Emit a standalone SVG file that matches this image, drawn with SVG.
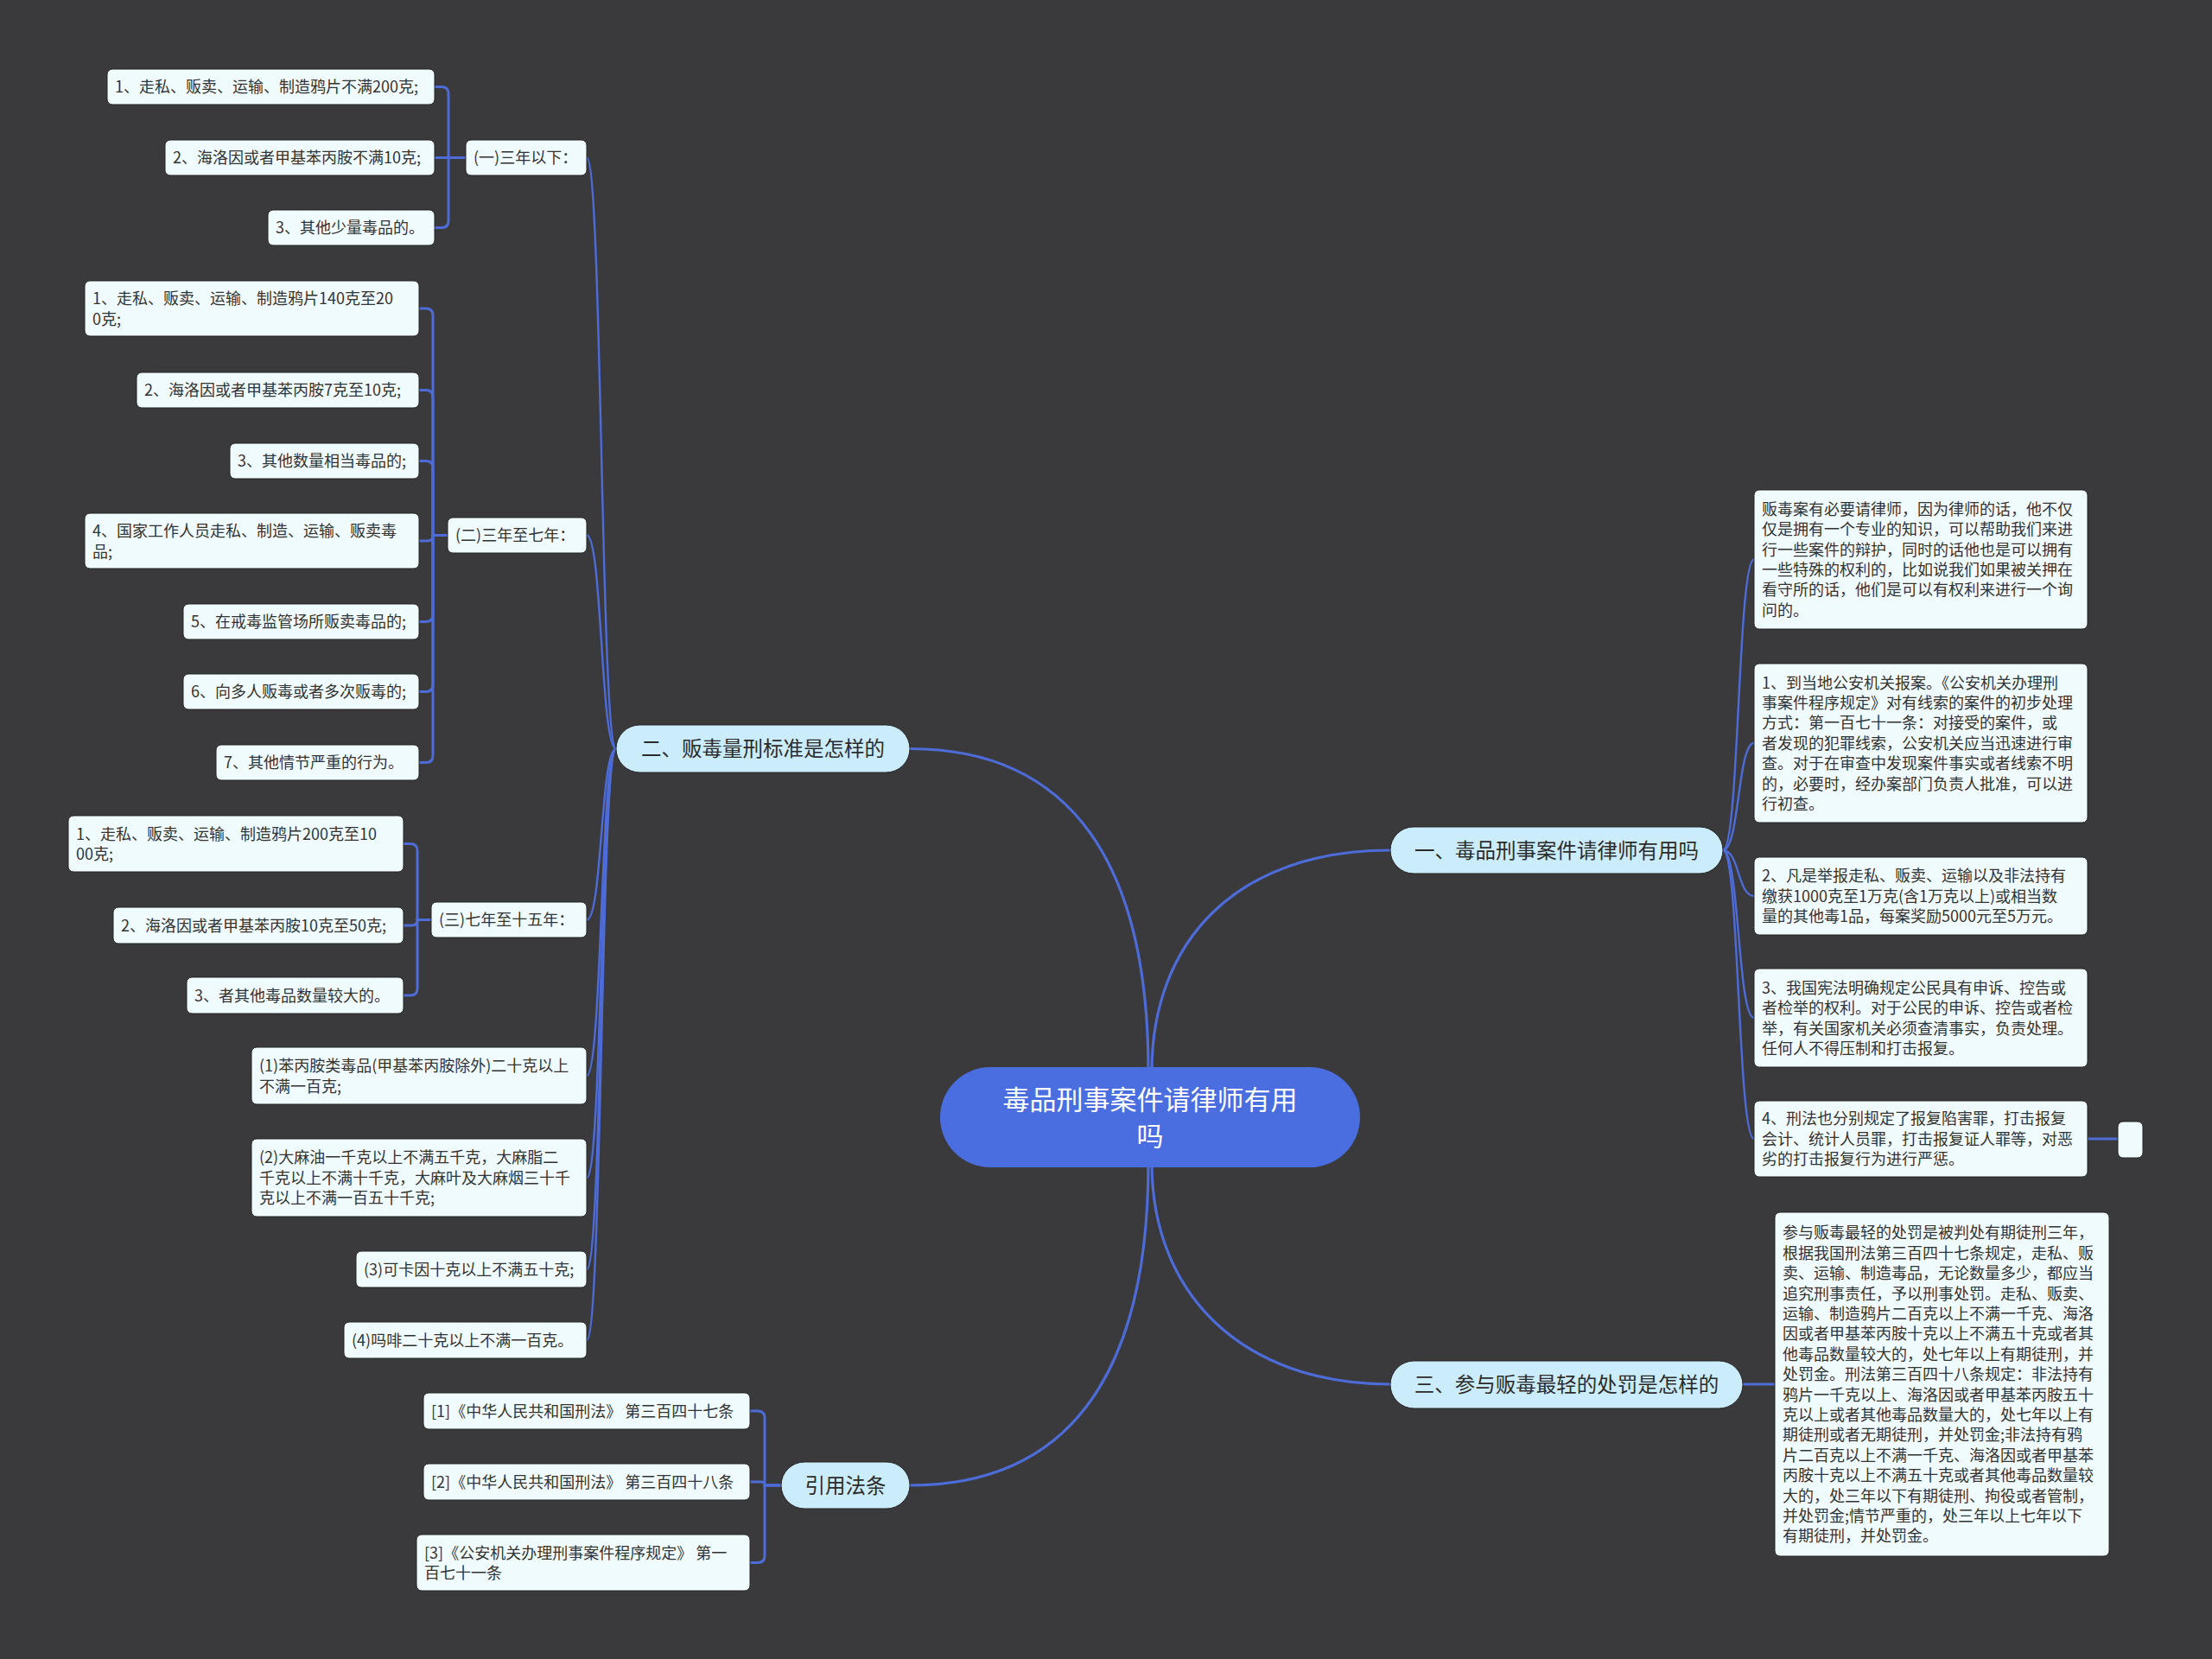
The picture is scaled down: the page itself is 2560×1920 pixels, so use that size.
<svg xmlns="http://www.w3.org/2000/svg" width="2560" height="1920" viewBox="0 0 2560 1920">
<style>
text{font-family:"Noto Sans CJK SC","Noto Sans",sans-serif}
.leaf rect{fill:#f0fbfd;stroke:#262626;stroke-width:1}
.leaf text{font-size:18px;fill:#333333}
.branch rect{fill:#cbecfb;stroke:#262626;stroke-width:1}
.branch text{font-size:23.5px;fill:#2b2b2b;text-anchor:middle}
.conn path{fill:none;stroke:#4d6cd8;stroke-width:3;stroke-linecap:round}
.conn .main{stroke-width:3.2}
.conn .fan{stroke-width:2.4}
</style>
<rect x="0" y="0" width="2560" height="1920" fill="#3a393b"/>

<g id="connectors" class="conn">
  <path class="main" d="M1329,1240 C1329,1000 1240,866.5 1053,866.5"/>
  <path class="main" d="M1333,1240 C1333,1090 1430,984 1609,984"/>
  <path class="main" d="M1333,1346 C1333,1500 1440,1602 1609,1602"/>
  <path class="main" d="M1329,1346 C1329,1600 1230,1719 1053,1719"/>
  <path class="fan" d="M713,866.5 C695,866.5 697,182.5 679,182.5"/>
  <path class="fan" d="M713,866.5 C695,866.5 697,619.5 679,619.5"/>
  <path class="fan" d="M713,866.5 C695,866.5 697,1064.5 679,1064.5"/>
  <path class="fan" d="M713,866.5 C695,866.5 697,1245 679,1245"/>
  <path class="fan" d="M713,866.5 C695,866.5 697,1363 679,1363"/>
  <path class="fan" d="M713,866.5 C695,866.5 697,1469 679,1469"/>
  <path class="fan" d="M713,866.5 C695,866.5 697,1551 679,1551"/>
  <path class="fan" d="M1994,984 C2013,984 2011,647.5 2030,647.5"/>
  <path class="fan" d="M1994,984 C2013,984 2011,860 2030,860"/>
  <path class="fan" d="M1994,984 C2013,984 2011,1037 2030,1037"/>
  <path class="fan" d="M1994,984 C2013,984 2011,1178 2030,1178"/>
  <path class="fan" d="M1994,984 C2013,984 2011,1318 2030,1318"/>
  <path d="M2017,1602 H2054"/>
  <path d="M2416,1318 H2451"/>
  <path d="M503,100.5 H511 Q519,100.5 519,108.5 V182.5 H539"/>
  <path d="M503,182.5 H539"/>
  <path d="M503,263.5 H511 Q519,263.5 519,255.5 V182.5 H539"/>
  <path d="M485,357 H493 Q501,357 501,365 V619.5 H518"/>
  <path d="M485,451.5 H493 Q501,451.5 501,459.5 V619.5 H518"/>
  <path d="M485,533.5 H493 Q501,533.5 501,541.5 V619.5 H518"/>
  <path d="M485,626 H494.5 Q501,626 501,619.5 H518"/>
  <path d="M485,719.5 H493 Q501,719.5 501,711.5 V619.5 H518"/>
  <path d="M485,800.5 H493 Q501,800.5 501,792.5 V619.5 H518"/>
  <path d="M485,882.5 H493 Q501,882.5 501,874.5 V619.5 H518"/>
  <path d="M467,976.5 H475 Q483,976.5 483,984.5 V1064.5 H499"/>
  <path d="M467,1071 H476.5 Q483,1071 483,1064.5 H499"/>
  <path d="M467,1152 H475 Q483,1152 483,1144 V1064.5 H499"/>
  <path d="M868,1633 H877 Q885,1633 885,1641 V1719 H904"/>
  <path d="M868,1715 H881 Q885,1715 885,1719 H904"/>
  <path d="M868,1808.5 H877 Q885,1808.5 885,1800.5 V1719 H904"/>
</g>

<g id="root">
  <rect x="1088" y="1235" width="486" height="116" rx="58" fill="#4a6ee0"/>
  <text x="1331" y="1284" font-size="31" fill="#ffffff" text-anchor="middle"><tspan x="1331">毒品刑事案件请律师有用</tspan><tspan x="1331" dy="42">吗</tspan></text>
</g>

<g id="b1" class="branch"><rect x="1609" y="957" width="385" height="54" rx="27"/><text x="1801.5" y="992.5">一、毒品刑事案件请律师有用吗</text></g>
<g id="b2" class="branch"><rect x="713" y="839" width="340" height="55" rx="27.5"/><text x="883" y="875">二、贩毒量刑标准是怎样的</text></g>
<g id="b3" class="branch"><rect x="1609" y="1575" width="408" height="55" rx="27.5"/><text x="1813" y="1610.5">三、参与贩毒最轻的处罚是怎样的</text></g>
<g id="b4" class="branch"><rect x="904" y="1692" width="149" height="54" rx="27"/><text x="978.5" y="1727.5">引用法条</text></g>

<g id="p1" class="leaf"><rect x="539" y="162" width="140" height="41" rx="6"/><text x="548" y="189.3">(一)三年以下：</text></g>
<g id="a1" class="leaf"><rect x="124" y="80" width="379" height="41" rx="6"/><text x="133" y="107.3">1、走私、贩卖、运输、制造鸦片不满200克;</text></g>
<g id="a2" class="leaf"><rect x="191" y="162" width="312" height="41" rx="6"/><text x="200" y="189.3">2、海洛因或者甲基苯丙胺不满10克;</text></g>
<g id="a3" class="leaf"><rect x="310" y="243" width="193" height="41" rx="6"/><text x="319" y="270.3">3、其他少量毒品的。</text></g>

<g id="p2" class="leaf"><rect x="518" y="599" width="161" height="41" rx="6"/><text x="527" y="626.3">(二)三年至七年：</text></g>
<g id="c1" class="leaf"><rect x="98" y="325" width="387" height="64" rx="6"/><text x="107" y="352.1"><tspan x="107">1、走私、贩卖、运输、制造鸦片140克至20</tspan><tspan x="107" dy="23.4">0克;</tspan></text></g>
<g id="c2" class="leaf"><rect x="158" y="431" width="327" height="41" rx="6"/><text x="167" y="458.3">2、海洛因或者甲基苯丙胺7克至10克;</text></g>
<g id="c3" class="leaf"><rect x="266" y="513" width="219" height="41" rx="6"/><text x="275" y="540.3">3、其他数量相当毒品的;</text></g>
<g id="c4" class="leaf"><rect x="98" y="594" width="387" height="64" rx="6"/><text x="107" y="621.1"><tspan x="107">4、国家工作人员走私、制造、运输、贩卖毒</tspan><tspan x="107" dy="23.4">品;</tspan></text></g>
<g id="c5" class="leaf"><rect x="212" y="699" width="273" height="41" rx="6"/><text x="221" y="726.3">5、在戒毒监管场所贩卖毒品的;</text></g>
<g id="c6" class="leaf"><rect x="212" y="780" width="273" height="41" rx="6"/><text x="221" y="807.3">6、向多人贩毒或者多次贩毒的;</text></g>
<g id="c7" class="leaf"><rect x="250" y="862" width="235" height="41" rx="6"/><text x="259" y="889.3">7、其他情节严重的行为。</text></g>

<g id="p3" class="leaf"><rect x="499" y="1044" width="180" height="41" rx="6"/><text x="508" y="1071.3">(三)七年至十五年：</text></g>
<g id="d1" class="leaf"><rect x="79" y="944" width="388" height="65" rx="6"/><text x="88" y="971.6"><tspan x="88">1、走私、贩卖、运输、制造鸦片200克至10</tspan><tspan x="88" dy="23.4">00克;</tspan></text></g>
<g id="d2" class="leaf"><rect x="131" y="1050" width="336" height="42" rx="6"/><text x="140" y="1077.8">2、海洛因或者甲基苯丙胺10克至50克;</text></g>
<g id="d3" class="leaf"><rect x="216" y="1131" width="251" height="42" rx="6"/><text x="225" y="1158.8">3、者其他毒品数量较大的。</text></g>

<g id="e1" class="leaf"><rect x="291" y="1212" width="388" height="66" rx="6"/><text x="300" y="1240.1"><tspan x="300">(1)苯丙胺类毒品(甲基苯丙胺除外)二十克以上</tspan><tspan x="300" dy="23.4">不满一百克;</tspan></text></g>
<g id="e2" class="leaf"><rect x="291" y="1318" width="388" height="90" rx="6"/><text x="300" y="1346.4"><tspan x="300">(2)大麻油一千克以上不满五千克，大麻脂二</tspan><tspan x="300" dy="23.4">千克以上不满十千克，大麻叶及大麻烟三十千</tspan><tspan x="300" dy="23.4">克以上不满一百五十千克;</tspan></text></g>
<g id="e3" class="leaf"><rect x="412" y="1448" width="267" height="42" rx="6"/><text x="421" y="1475.8">(3)可卡因十克以上不满五十克;</text></g>
<g id="e4" class="leaf"><rect x="398" y="1530" width="281" height="42" rx="6"/><text x="407" y="1557.8">(4)吗啡二十克以上不满一百克。</text></g>

<g id="f1" class="leaf"><rect x="490" y="1612" width="378" height="42" rx="6"/><text x="499" y="1639.8">[1]《中华人民共和国刑法》 第三百四十七条</text></g>
<g id="f2" class="leaf"><rect x="490" y="1694" width="378" height="42" rx="6"/><text x="499" y="1721.8">[2]《中华人民共和国刑法》 第三百四十八条</text></g>
<g id="f3" class="leaf"><rect x="482" y="1776" width="386" height="65" rx="6"/><text x="491" y="1803.6"><tspan x="491">[3]《公安机关办理刑事案件程序规定》 第一</tspan><tspan x="491" dy="23.4">百七十一条</tspan></text></g>

<g id="r1" class="leaf"><rect x="2030" y="567" width="386" height="161" rx="6"/><text x="2039" y="595.8"><tspan x="2039">贩毒案有必要请律师，因为律师的话，他不仅</tspan><tspan x="2039" dy="23.4">仅是拥有一个专业的知识，可以帮助我们来进</tspan><tspan x="2039" dy="23.4">行一些案件的辩护，同时的话他也是可以拥有</tspan><tspan x="2039" dy="23.4">一些特殊的权利的，比如说我们如果被关押在</tspan><tspan x="2039" dy="23.4">看守所的话，他们是可以有权利来进行一个询</tspan><tspan x="2039" dy="23.4">问的。</tspan></text></g>
<g id="r2" class="leaf"><rect x="2030" y="768" width="386" height="184" rx="6"/><text x="2039" y="796.6"><tspan x="2039">1、到当地公安机关报案。《公安机关办理刑</tspan><tspan x="2039" dy="23.4">事案件程序规定》对有线索的案件的初步处理</tspan><tspan x="2039" dy="23.4">方式：第一百七十一条：对接受的案件，或</tspan><tspan x="2039" dy="23.4">者发现的犯罪线索，公安机关应当迅速进行审</tspan><tspan x="2039" dy="23.4">查。对于在审查中发现案件事实或者线索不明</tspan><tspan x="2039" dy="23.4">的，必要时，经办案部门负责人批准，可以进</tspan><tspan x="2039" dy="23.4">行初查。</tspan></text></g>
<g id="r3" class="leaf"><rect x="2030" y="992" width="386" height="90" rx="6"/><text x="2039" y="1020.4"><tspan x="2039">2、凡是举报走私、贩卖、运输以及非法持有</tspan><tspan x="2039" dy="23.4">缴获1000克至1万克(含1万克以上)或相当数</tspan><tspan x="2039" dy="23.4">量的其他毒1品，每案奖励5000元至5万元。</tspan></text></g>
<g id="r4" class="leaf"><rect x="2030" y="1121" width="386" height="114" rx="6"/><text x="2039" y="1149.7"><tspan x="2039">3、我国宪法明确规定公民具有申诉、控告或</tspan><tspan x="2039" dy="23.4">者检举的权利。对于公民的申诉、控告或者检</tspan><tspan x="2039" dy="23.4">举，有关国家机关必须查清事实，负责处理。</tspan><tspan x="2039" dy="23.4">任何人不得压制和打击报复。</tspan></text></g>
<g id="r5" class="leaf"><rect x="2030" y="1274" width="386" height="88" rx="6"/><text x="2039" y="1301.4"><tspan x="2039">4、刑法也分别规定了报复陷害罪，打击报复</tspan><tspan x="2039" dy="23.4">会计、统计人员罪，打击报复证人罪等，对恶</tspan><tspan x="2039" dy="23.4">劣的打击报复行为进行严惩。</tspan></text></g>
<g id="r5a" class="leaf"><rect x="2451" y="1298" width="29" height="42" rx="6"/></g>
<g id="r6" class="leaf"><rect x="2054" y="1403" width="387" height="398" rx="6"/><text x="2063" y="1433.3"><tspan x="2063">参与贩毒最轻的处罚是被判处有期徒刑三年，</tspan><tspan x="2063" dy="23.4">根据我国刑法第三百四十七条规定，走私、贩</tspan><tspan x="2063" dy="23.4">卖、运输、制造毒品，无论数量多少，都应当</tspan><tspan x="2063" dy="23.4">追究刑事责任，予以刑事处罚。走私、贩卖、</tspan><tspan x="2063" dy="23.4">运输、制造鸦片二百克以上不满一千克、海洛</tspan><tspan x="2063" dy="23.4">因或者甲基苯丙胺十克以上不满五十克或者其</tspan><tspan x="2063" dy="23.4">他毒品数量较大的，处七年以上有期徒刑，并</tspan><tspan x="2063" dy="23.4">处罚金。刑法第三百四十八条规定：非法持有</tspan><tspan x="2063" dy="23.4">鸦片一千克以上、海洛因或者甲基苯丙胺五十</tspan><tspan x="2063" dy="23.4">克以上或者其他毒品数量大的，处七年以上有</tspan><tspan x="2063" dy="23.4">期徒刑或者无期徒刑，并处罚金;非法持有鸦</tspan><tspan x="2063" dy="23.4">片二百克以上不满一千克、海洛因或者甲基苯</tspan><tspan x="2063" dy="23.4">丙胺十克以上不满五十克或者其他毒品数量较</tspan><tspan x="2063" dy="23.4">大的，处三年以下有期徒刑、拘役或者管制，</tspan><tspan x="2063" dy="23.4">并处罚金;情节严重的，处三年以上七年以下</tspan><tspan x="2063" dy="23.4">有期徒刑，并处罚金。</tspan></text></g>
</svg>
